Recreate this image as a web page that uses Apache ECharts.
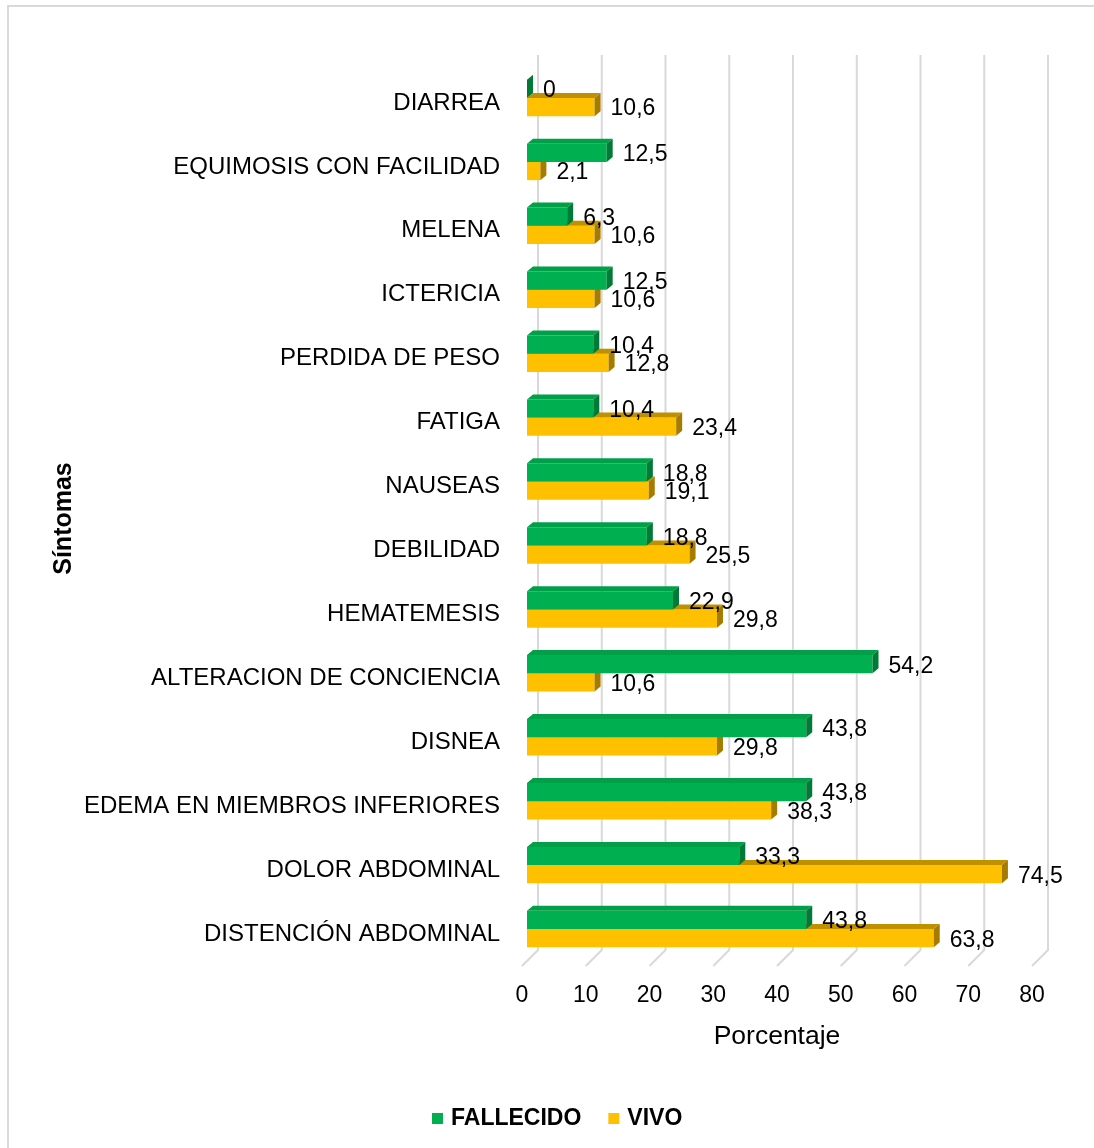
<!DOCTYPE html>
<html>
<head>
<meta charset="utf-8">
<script src="https://cdn.jsdelivr.net/npm/echarts@6/dist/echarts.min.js"></script>
<style>
  html, body { margin: 0; padding: 0; background: #fff; }
  #chart { width: 1094px; height: 1148px; }
</style>
</head>
<body>
<div id="chart"></div>
<script>
const categories = [
  'DIARREA', 'EQUIMOSIS CON FACILIDAD', 'MELENA', 'ICTERICIA', 'PERDIDA DE PESO',
  'FATIGA', 'NAUSEAS', 'DEBILIDAD', 'HEMATEMESIS', 'ALTERACION DE CONCIENCIA',
  'DISNEA', 'EDEMA EN MIEMBROS INFERIORES', 'DOLOR ABDOMINAL', 'DISTENCIÓN ABDOMINAL'
]
const fallecido = [0, 12.5, 6.3, 12.5, 10.4, 10.4, 18.8, 18.8, 22.9, 54.2, 43.8, 43.8, 33.3, 43.8]
const vivo = [10.6, 2.1, 10.6, 10.6, 12.8, 23.4, 19.1, 25.5, 29.8, 10.6, 29.8, 38.3, 74.5, 63.8]
const ticks = [0, 10, 20, 30, 40, 50, 60, 70, 80]

const FONT = '"Liberation Sans", Arial, sans-serif'

function fmt(v) {
  return String(v).replace('.', ',')
}

// 3D-looking bar: front face + top face + right side, label on the right
function barRender(isGreen, face, top, side) {
  return function (params, api) {
    const v = api.value(0)
    const i = api.value(1)
    const p = api.coord([v, i])
    const p0 = api.coord([0, i])
    const band = api.size([0, 1])[1]
    const h = band * 0.285
    const x0 = p0[0] + 5
    const x1 = p[0] + 5
    const mid = p[1] - band * 0.078
    const y0 = isGreen ? mid - h : mid
    const y1 = y0 + h
    const dx = 6
    const dy = -5
    return {
      type: 'group',
      children: [
        { type: 'rect', shape: { x: x0, y: y0, width: x1 - x0, height: h }, style: { fill: face } },
        { type: 'polygon', shape: { points: [[x0, y0], [x1, y0], [x1 + dx, y0 + dy], [x0 + dx, y0 + dy]] }, style: { fill: top } },
        { type: 'polygon', shape: { points: [[x1, y0], [x1 + dx, y0 + dy], [x1 + dx, y1 + dy], [x1, y1]] }, style: { fill: side } },
        {
          type: 'text',
          x: x1 + 16,
          y: (y0 + y1) / 2 + 2,
          z2: 10,
          style: { text: fmt(v), fill: '#000', fontSize: 23, fontFamily: FONT, verticalAlign: 'middle', align: 'left' }
        }
      ]
    }
  }
}

// back wall gridlines with the short floor diagonals
function gridRender(params, api) {
  const x = api.coord([api.value(0), 0])[0]
  const cs = params.coordSys
  const yb = cs.y + cs.height
  return {
    type: 'polyline',
    shape: { points: [[x, yb], [x + 16, yb - 16], [x + 16, cs.y - 16]] },
    style: { stroke: '#D9D9D9', lineWidth: 2, fill: null }
  }
}

const chart = echarts.init(document.getElementById('chart'))

const option = {
  backgroundColor: '#fff',
  textStyle: { fontFamily: FONT },
  graphic: [{
    type: 'rect',
    shape: { x: 8, y: 6, width: 1100, height: 1160 },
    style: { fill: null, stroke: '#D9D9D9', lineWidth: 2 },
    silent: true
  }],
  grid: {
    left: 522,
    right: 62,
    top: 71,
    height: 895
  },
  legend: {
    data: ['FALLECIDO', 'VIVO'],
    left: 427,
    top: 1102,
    icon: 'rect',
    itemWidth: 11,
    itemHeight: 11,
    itemGap: 27,
    textStyle: { fontSize: 23, fontWeight: 'bold', color: '#000', fontFamily: FONT, padding: [0, 0, 0, 3] }
  },
  xAxis: {
    type: 'value',
    min: 0,
    max: 80,
    interval: 10,
    name: 'Porcentaje',
    nameLocation: 'middle',
    nameGap: 57,
    nameTextStyle: { fontSize: 26.5, color: '#000', fontFamily: FONT },
    axisLine: { show: false },
    axisTick: { show: false },
    splitLine: { show: false },
    axisLabel: { fontSize: 23, color: '#000', margin: 18, fontFamily: FONT }
  },
  yAxis: {
    type: 'category',
    inverse: true,
    data: categories,
    name: 'Síntomas',
    nameLocation: 'middle',
    nameGap: 445,
    nameTextStyle: { fontSize: 25, fontWeight: 'bold', color: '#000', fontFamily: FONT },
    axisLine: { show: false },
    axisTick: { show: false },
    splitLine: { show: false },
    axisLabel: { fontSize: 24, color: '#000', margin: 22, fontFamily: FONT, padding: [3, 0, 0, 0] }
  },
  series: [
    {
      type: 'custom',
      name: 'grid',
      silent: true,
      clip: false,
      z: 1,
      renderItem: gridRender,
      encode: { x: 0, y: 1 },
      data: ticks.map(t => [t, 0])
    },
    {
      type: 'custom',
      name: 'VIVO',
      z: 2,
      clip: false,
      itemStyle: { color: '#FFC000' },
      renderItem: barRender(false, '#FFC000', '#BF9000', '#A67C00'),
      encode: { x: 0, y: 1 },
      data: vivo.map((v, i) => [v, i])
    },
    {
      type: 'custom',
      name: 'FALLECIDO',
      z: 3,
      clip: false,
      itemStyle: { color: '#00B050' },
      renderItem: barRender(true, '#00B050', '#00A048', '#007A36'),
      encode: { x: 0, y: 1 },
      data: fallecido.map((v, i) => [v, i])
    }
  ]
}

chart.setOption(option)
window.addEventListener('resize', () => chart.resize())
</script>
</body>
</html>
